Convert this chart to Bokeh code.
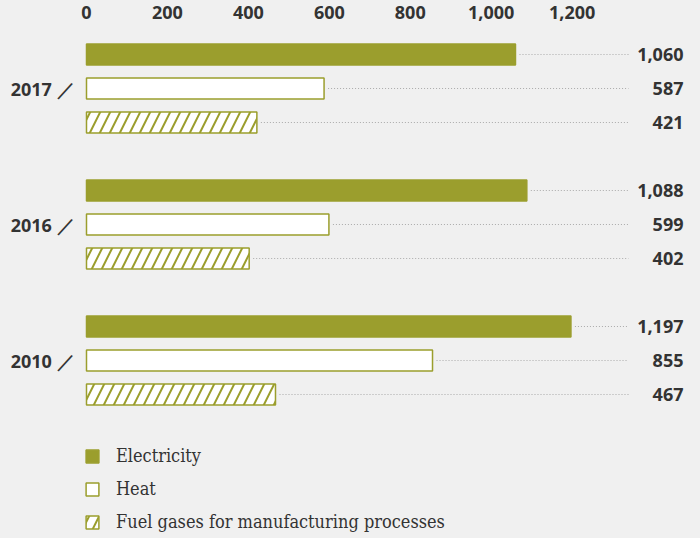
from bokeh.plotting import figure
from bokeh.models import Range1d, FixedTicker, NumeralTickFormatter, Legend, LegendItem, ColumnDataSource
from bokeh.core.properties import value
from bokeh.embed import file_html
from bokeh.resources import INLINE

years = ["2017", "2016", "2010"]
electricity = [1060, 1088, 1197]
heat = [587, 599, 855]
fuel = [421, 402, 467]
series_names = ["Electricity", "Heat", "Fuel gases for manufacturing processes"]
x_ticks = [0, 200, 400, 600, 800, 1000, 1200]

OLIVE = "#9b9e2d"
BG = "#f0f0f0"
TXT = "#333333"

px = 1 / 0.4047  # data units per pixel
p = figure(width=700, height=538, output_backend="svg", toolbar_location=None,
           x_range=Range1d(-2 * px, (700 - 86) * px),
           y_range=Range1d(14.235, -0.4706),
           x_axis_location="above", min_border_left=84, min_border_top=38,
           min_border_right=0, min_border_bottom=0)
p.background_fill_color = BG
p.border_fill_color = BG
p.outline_line_color = None
p.grid.visible = False

# axes
xa = p.xaxis[0]
xa.ticker = FixedTicker(ticks=x_ticks)
xa.formatter = NumeralTickFormatter(format="0,0")
ya = p.yaxis[0]
centers = [gi * 4 + 1 for gi in range(len(years))]
ya.ticker = FixedTicker(ticks=centers)
ya.major_label_overrides = {c: y + " \uff0f" for c, y in zip(centers, years)}
for ax in (xa, ya):
    ax.axis_line_color = None
    ax.major_tick_line_color = None
    ax.minor_tick_line_color = None
    ax.major_label_text_font = "Open Sans"
    ax.major_label_text_font_style = "bold"
    ax.major_label_text_font_size = "18px"
    ax.major_label_text_color = TXT
xa.major_label_standoff = 14
ya.major_label_standoff = 4

dot_end = (628 - 86) * px
lab_x = (683 - 86) * px

renderers = []
for si, vals in enumerate([electricity, heat, fuel]):
    ys = [gi * 4 + si for gi in range(len(years))]
    src = ColumnDataSource(dict(y=ys, v=vals, lbl=[f"{v:,}" for v in vals],
                                x0=[v + 4 * px for v in vals], x1=[dot_end] * len(vals),
                                lx=[lab_x] * len(vals)))
    kw = dict(y="y", right="v", left=0, height=0.62, source=src, line_color=OLIVE, line_width=1.5)
    if si == 0:
        r = p.hbar(fill_color=OLIVE, **kw)
    elif si == 1:
        r = p.hbar(fill_color="white", **kw)
    else:
        r = p.hbar(fill_color="white", hatch_pattern="/", hatch_color=OLIVE,
                   hatch_scale=20, hatch_weight=2, **kw)
    renderers.append(r)
    p.segment(x0="x0", y0="y", x1="x1", y1="y", source=src, line_color="#aaaaaa",
              line_width=1.2, line_dash="1 2")
    p.text(x="lx", y="y", text="lbl", source=src, text_align="right", text_baseline="middle",
           text_font=value("Open Sans"), text_font_style="bold", text_font_size="18px",
           text_color=TXT)

legend = Legend(items=[LegendItem(label=n, renderers=[r]) for n, r in zip(series_names, renderers)],
                location=(0, 6), orientation="vertical", padding=0, margin=0,
                spacing=12, glyph_width=16, glyph_height=16, label_height=16,
                label_standoff=16, background_fill_alpha=0, border_line_color=None,
                label_text_font="DejaVu Serif Condensed", label_text_font_size="18px",
                label_text_color=TXT)
p.add_layout(legend, "center")

html = file_html(p, INLINE)
html = html.replace("<head>", "<head><style>html,body{background:#f0f0f0;}</style>", 1)
open("out.html", "w").write(html)
